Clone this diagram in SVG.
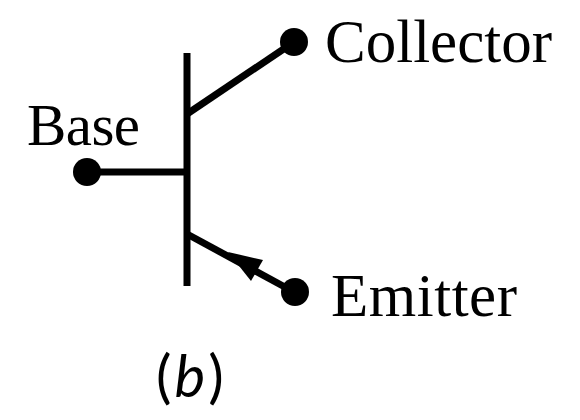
<svg xmlns="http://www.w3.org/2000/svg" width="580" height="420" viewBox="0 0 580 420">
<style>
.l{fill:none;stroke:#000;stroke-width:7}
.d{fill:#000}
text{font-family:"Liberation Serif","DejaVu Serif",serif;font-size:59px;fill:#000}
.n{font-size:61px}
</style>
<rect width="580" height="420" fill="#fff"/>
<g id="connectors">
<path class="l" d="M187 53V286"/>
<path class="l" d="M187 114L294 42"/>
<path class="l" d="M87 172H187"/>
<path class="l" d="M187 234L294 292"/>
<path class="d" d="M228 252L263 260L251 281Z"/>
</g>
<g id="collector"><circle class="d" cx="294" cy="42" r="14"/><text class="n" x="325" y="62" textLength="227" lengthAdjust="spacing">Collector</text></g>
<g id="base"><circle class="d" cx="87" cy="172" r="14"/><text x="27" y="145" textLength="113" lengthAdjust="spacing">Base</text></g>
<g id="emitter"><circle class="d" cx="295" cy="292" r="14"/><text class="n" x="331" y="316" textLength="186" lengthAdjust="spacing">Emitter</text></g>
<g id="caption"><text x="156" y="397" style="font-family:Lato,sans-serif;font-size:58px;letter-spacing:3px">(<tspan font-style="italic">b</tspan>)</text></g>
</svg>
